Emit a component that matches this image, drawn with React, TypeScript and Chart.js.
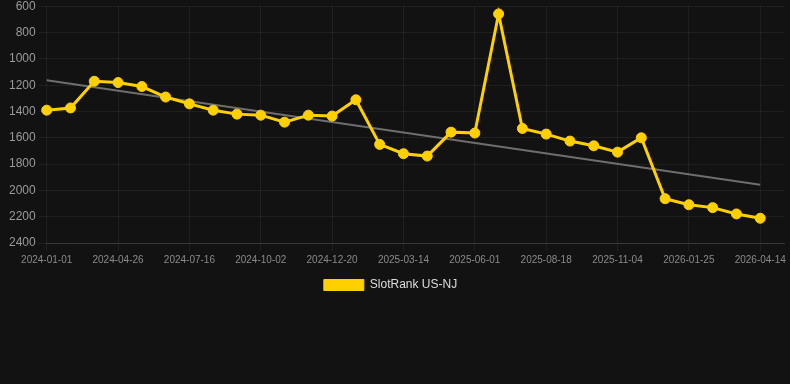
import React, { useEffect, useRef } from "react";
import { Chart, registerables } from "chart.js";

Chart.register(...registerables);

const categories: string[] = [
  "2024-01-01", "2024-02-08", "2024-03-18", "2024-04-26", "2024-05-23", "2024-06-19",
  "2024-07-16", "2024-08-11", "2024-09-06", "2024-10-02", "2024-10-28", "2024-11-23",
  "2024-12-20", "2025-01-16", "2025-02-14", "2025-03-14", "2025-04-10", "2025-05-06",
  "2025-06-01", "2025-06-27", "2025-07-23", "2025-08-18", "2025-09-13", "2025-10-09",
  "2025-11-04", "2025-12-01", "2025-12-28", "2026-01-25", "2026-02-21", "2026-03-19",
  "2026-04-14", "",
];

const rankValues: (number | null)[] = [
  1390, 1373, 1170, 1180, 1210, 1290, 1342, 1390, 1420, 1428, 1481, 1428,
  1435, 1311, 1650, 1721, 1739, 1557, 1564, 658, 1529, 1572, 1625, 1661,
  1709, 1600, 2063, 2109, 2131, 2179, 2212, null,
];

const trendStart = 1162;
const trendEnd = 1957;

const yTicks = { min: 600, max: 2400, step: 200 };

const FONT = "'Liberation Sans', Arial, sans-serif";

const legendShift = {
  id: "legendShift",
  afterLayout(chart: any) {
    const lg = chart.legend;
    if (lg) {
      lg.left -= 5;
      lg.right -= 5;
    }
  },
};

export default function App() {
  const ref = useRef<HTMLCanvasElement | null>(null);

  useEffect(() => {
    document.body.style.margin = "0";
    document.body.style.background = "#121212";
    if (!ref.current) return;
    const lastIdx = rankValues.length - 2;
    const trend = categories.map((_, i) =>
      i === 0 ? trendStart : i === lastIdx ? trendEnd : null
    );
    const chart = new Chart(ref.current, {
      type: "line",
      data: {
        labels: categories,
        datasets: [
          {
            label: "SlotRank US-NJ",
            data: rankValues,
            borderColor: "#ffd000",
            backgroundColor: "#ffd000",
            borderWidth: 3,
            pointRadius: 5,
            pointBorderWidth: 1,
            pointBackgroundColor: "#ffd000",
            pointBorderColor: "#ffd000",
            tension: 0,
          },
          {
            label: "trend",
            data: trend,
            borderColor: "#6e6e6e",
            backgroundColor: "#6e6e6e",
            borderWidth: 2,
            pointRadius: 0,
            spanGaps: true,
            tension: 0,
          },
        ],
      },
      plugins: [legendShift],
      options: {
        animation: false,
        responsive: true,
        maintainAspectRatio: false,
        layout: { padding: { left: 6, right: 5, top: 0, bottom: 0 } },
        plugins: {
          legend: {
            position: "bottom",
            labels: {
              color: "#dddddd",
              boxWidth: 40,
              boxHeight: 11,
              font: { family: FONT, size: 12 },
              filter: (item: any) => item.text !== "trend",
              generateLabels: (c: any) => {
                const items = Chart.defaults.plugins.legend.labels.generateLabels(c);
                return items.map((it: any) => ({ ...it, lineWidth: 1 }));
              },
            },
          },
          tooltip: { enabled: false },
        },
        scales: {
          x: {
            type: "category",
            offset: false,
            grid: { color: "rgba(255,255,255,0.06)", drawTicks: true, tickLength: 8 },
            border: { color: "rgba(255,255,255,0.12)" },
            ticks: {
              color: "#8a8a8a",
              autoSkip: true,
              maxTicksLimit: 11,
              maxRotation: 0,
              minRotation: 0,
              padding: 3,
              font: { family: FONT, size: 10 },
            },
          },
          y: {
            reverse: true,
            min: yTicks.min,
            max: yTicks.max,
            grid: { color: "rgba(255,255,255,0.06)", tickLength: 8 },
            border: { display: false },
            ticks: {
              stepSize: yTicks.step,
              color: "#9a9a9a",
              padding: 3,
              font: { family: FONT, size: 12, lineHeight: 0.55 },
              callback: (v: any) => String(v),
            },
          },
        },
      },
    });
    return () => chart.destroy();
  }, []);

  return (
    <div style={{ width: 790, height: 384, background: "#121212" }}>
      <div style={{ position: "relative", width: 790, height: 301 }}>
        <canvas ref={ref} />
      </div>
    </div>
  );
}
